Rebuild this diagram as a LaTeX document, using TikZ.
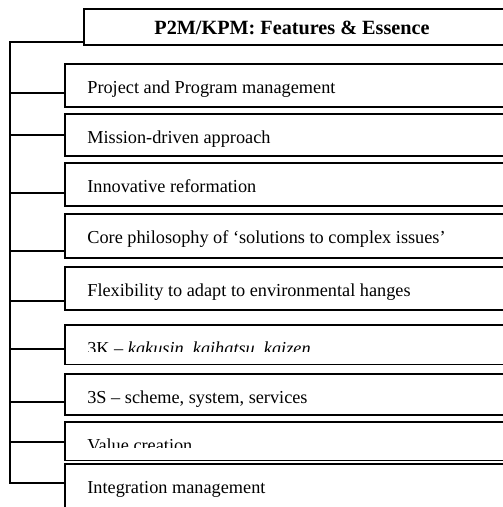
\documentclass[tikz,border=0pt]{standalone}
\usepackage{fontspec}
\setmainfont{Liberation Serif}
\usetikzlibrary{calc, positioning}

\begin{document}
\begin{tikzpicture}[x=0.02cm, y=-0.02cm,
    wire/.style={black, line width=1pt},
    hdrbox/.style={draw=black, line width=1pt, fill=white, rectangle, inner sep=0pt, minimum width=9cm, minimum height=0.72cm},
    itembox/.style={draw=black, line width=1pt, fill=white, rectangle, inner sep=0pt, minimum width=9.2cm},
    itemtext/.style={font=\fontsize{10.4}{12}\selectfont, inner sep=0pt, anchor=base west},
    hdrtext/.style={font=\fontsize{11.5}{13}\selectfont\bfseries, inner sep=0pt, anchor=base}]
  \useasboundingbox (0,0) rectangle (503,507);
  \clip (0,0) rectangle (503,507);
  \fill[white] (0,0) rectangle (503,507);

  % header
  \node[hdrbox, anchor=north west] (hdr) at (83,8) {};
  \node[hdrtext] (hdr-label) at (292,34) {P2M/KPM:\ Features \& Essence};

  % items: top / bottom / junction / cut / text
  \foreach \ya/\yb/\yj/\yc/\lbl [count=\i] in {
      63/106/93/0/{Project and Program management},
      113/155/135/0/{Mission-driven approach},
      162/205/193/0/{Innovative reformation},
      213/257/251/0/{Core philosophy of `solutions to complex issues'},
      266/309/301/0/{Flexibility to adapt to environmental\ hanges},
      324/363/349/352/{3K -- \textit{kakusin, kaihatsu, kaizen}},
      373/414/402/0/{3S -- scheme, system, services},
      421/459/442/448/{Value creation},
      463/540/483/0/{Integration management}} {
    \pgfmathsetmacro{\boxh}{(\yb-\ya)*0.02}
    \node[itembox, anchor=north west, minimum height=\boxh cm] (item-\i) at (64,\ya) {};
    \node[itemtext] (label-\i) at ($(item-\i.north west)+(23,30)$) {\lbl};
    \ifnum\yc>0
      \coordinate (cut-\i) at (66,\yc);
      \fill[white] (cut-\i) rectangle ($(item-\i.south east)+(-2,-1.2)$);
    \fi
    \coordinate (j-\i) at (10,\yj);
    \draw[wire] (j-\i) -- (item-\i.west |- j-\i);
  }

  % bus
  \coordinate (bustop) at (10,42);
  \draw[wire] (hdr.west |- bustop) -- (bustop) -- (j-9) -- (item-9.west |- j-9);
\end{tikzpicture}
\end{document}
